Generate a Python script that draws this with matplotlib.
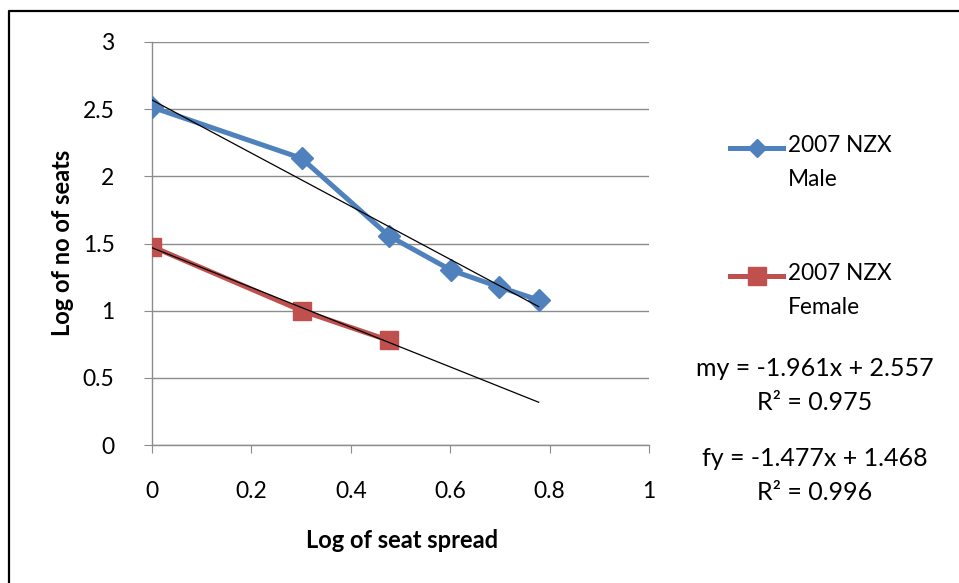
import numpy as np
import matplotlib
matplotlib.use("Agg")
import matplotlib.pyplot as plt
from matplotlib.lines import Line2D

plt.rcParams['font.family'] = ['Lato', 'DejaVu Sans']

# Data
male_x = [0.0, 0.301, 0.477, 0.602, 0.699, 0.778]
male_y = [2.515, 2.134, 1.556, 1.301, 1.176, 1.079]
female_x = [0.0, 0.301, 0.477]
female_y = [1.477, 1.0, 0.778]
trend_x_range = [0.0, 0.778]
male_label = "2007 NZX\nMale"
female_label = "2007 NZX\nFemale"
male_eq = ["my = -1.961x + 2.557", "R² = 0.975"]
female_eq = ["fy = -1.477x + 1.468", "R² = 0.996"]
xticks = [0, 0.2, 0.4, 0.6, 0.8, 1]
yticks = [0, 0.5, 1, 1.5, 2, 2.5, 3]

W, H = 959, 583
fig = plt.figure(figsize=(W/100, H/100), dpi=100)
ax = fig.add_axes([152/W, 1-445/H, (649-152)/W, (445-42)/H])

blue = '#4F81BD'
red = '#C0504D'
grid = '#8C8C8C'

# trendlines from fits
tx = np.array(trend_x_range)
mc = np.polyfit(male_x, male_y, 1)
fc = np.polyfit(female_x, female_y, 1)

ax.plot(male_x, male_y, color=blue, lw=3.6, marker='D', ms=11.5, zorder=3, solid_joinstyle='round')
ax.plot(female_x, female_y, color=red, lw=3.6, marker='s', ms=13, zorder=3)
ax.plot(tx, np.polyval(mc, tx), color='black', lw=0.9, zorder=4)
ax.plot(tx, np.polyval(fc, tx), color='black', lw=0.9, zorder=4)

ax.set_xlim(0, 1)
ax.set_ylim(0, 3)
ax.set_xticks(xticks)
ax.set_xticklabels([f"{v:g}" for v in xticks])
ax.set_yticks(yticks)
ax.set_yticklabels([f"{v:g}" for v in yticks])
ax.grid(axis='y', color=grid, lw=1)
ax.set_axisbelow(True)
for s in ['top', 'right']:
    ax.spines[s].set_visible(False)
for s in ['left', 'bottom']:
    ax.spines[s].set_color(grid)
    ax.spines[s].set_linewidth(1)
ax.tick_params(axis='x', direction='out', length=6, color=grid, labelsize=16.5, pad=20)
ax.tick_params(axis='y', direction='out', length=6, color=grid, labelsize=16.5, pad=21)

fig.text(402/W, 1-540/H, "Log of seat spread", ha='center', va='center', fontsize=17, fontweight='bold')
fig.text(62/W, 1-243/H, "Log of no of seats", ha='center', va='center', fontsize=17, fontweight='bold', rotation=90)

# legend (manual)
for y, col, mk, ms, lab in [(148, blue, 'D', 9.5, male_label), (276, red, 's', 12.5, female_label)]:
    yf = 1 - y/H
    fig.add_artist(Line2D([730/W, 783/W], [yf, yf], transform=fig.transFigure, color=col, lw=3.6))
    fig.add_artist(Line2D([756.5/W], [yf], transform=fig.transFigure, color=col, marker=mk, ms=ms, lw=0))
    fig.text(788/W, yf + 13/H, lab, ha='left', va='top', fontsize=16.3, linespacing=1.75)

# equations
for y, txt in [(368, male_eq[0]), (403, male_eq[1]), (458, female_eq[0]), (492, female_eq[1])]:
    fig.text(815/W, 1-y/H, txt, ha='center', va='center', fontsize=18)

# border
fig.add_artist(Line2D([8.5/W, 8.5/W, 1.0], [0.0, 1-11/H, 1-11/H], transform=fig.transFigure, color='black', lw=1.6))

fig.savefig("out.png", dpi=100)
